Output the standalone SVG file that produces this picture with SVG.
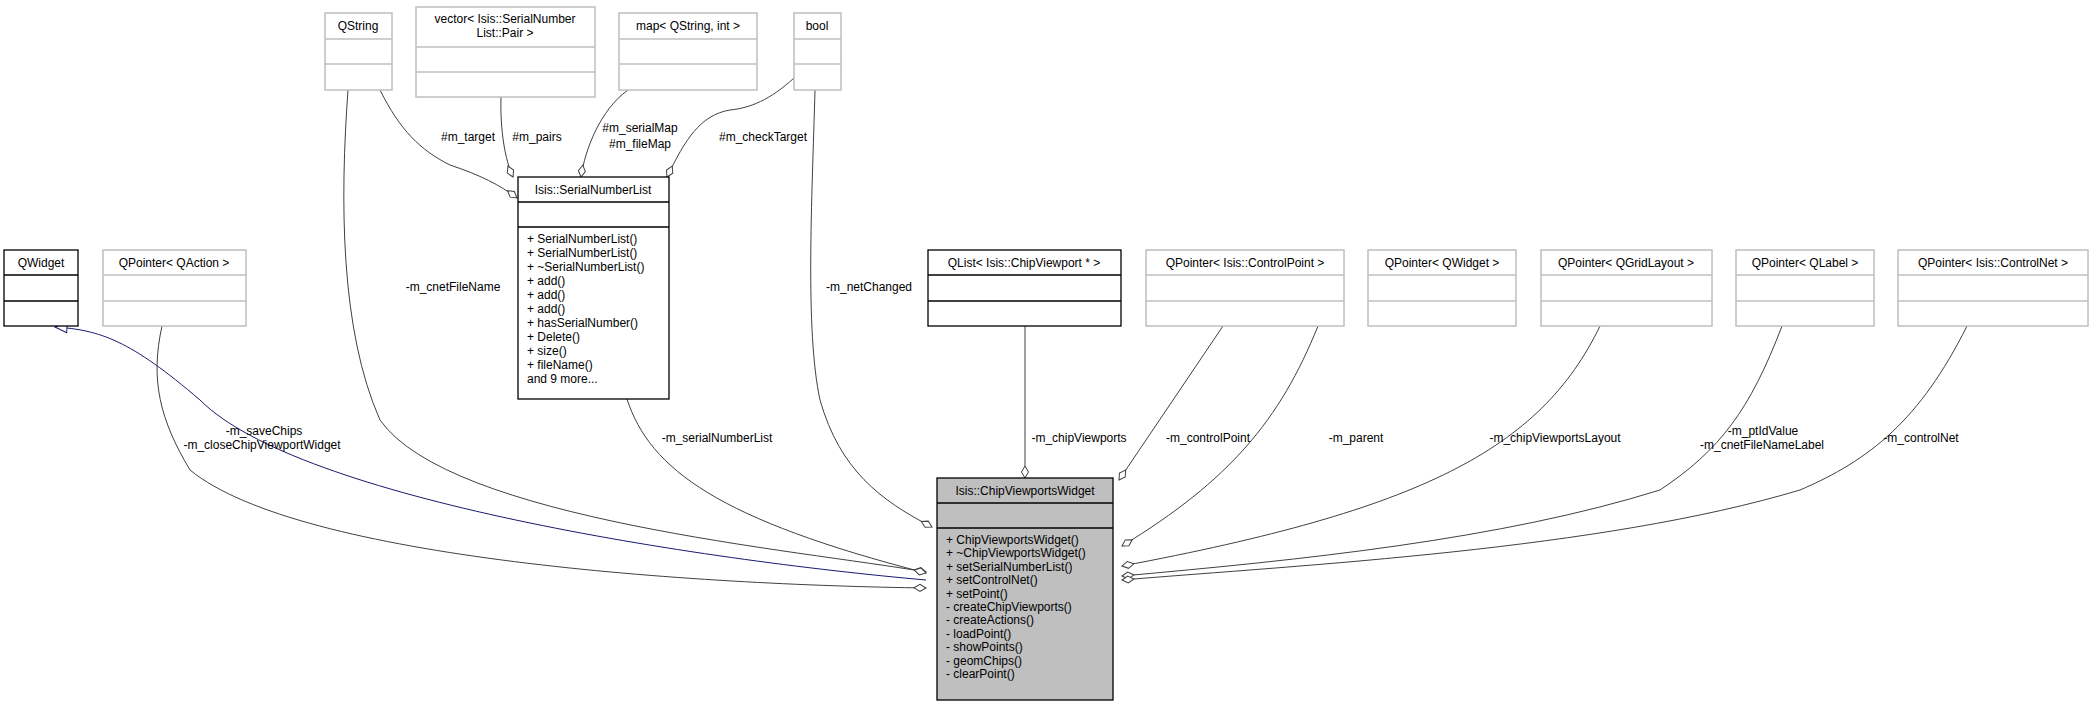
<svg xmlns="http://www.w3.org/2000/svg" width="2093" height="707" viewBox="0 0 2093 707">
<style>
text{font-family:"Liberation Sans",Arial,sans-serif;font-size:12px;fill:#000}
.c{text-anchor:middle}
.g rect,.g line{fill:#fff;stroke:#bfbfbf;stroke-width:1.5}
.b rect,.b line{fill:#fff;stroke:#000;stroke-width:1.3}
.m rect{fill:#bfbfbf;stroke:#000;stroke-width:1.3}
.m line{stroke:#000;stroke-width:1.3}
.e{fill:none;stroke:#404040;stroke-width:1}
.i{fill:none;stroke:#191970;stroke-width:1}
</style>
<defs>
<marker id="d" markerUnits="userSpaceOnUse" markerWidth="14" markerHeight="10" viewBox="-13 -5 14 10" refX="0" refY="0" orient="auto"><path d="M0,0 L-6,-3.5 L-12,0 L-6,3.5 Z" fill="#fff" stroke="#404040"/></marker>
<marker id="t" markerUnits="userSpaceOnUse" markerWidth="14" markerHeight="12" viewBox="-13 -6 14 12" refX="0" refY="0" orient="auto"><path d="M0,0 L-12,-5 L-12,5 Z" fill="#fff" stroke="#191970"/></marker>
</defs>
<rect width="2093" height="707" fill="#fff"/>
<g id="edges">
<path class="i" d="M926,580 C700,560 300,500 200,400 C130,340 100,330 55,327" marker-end="url(#t)"/>
<path class="e" d="M162,326 C150,380 160,420 190,470 C300,560 700,585 926,588" marker-end="url(#d)"/>
<path class="e" d="M348,90 C340,200 340,330 380,420 C450,520 800,550 926,572" marker-end="url(#d)"/>
<path class="e" d="M627,399 C650,470 720,520 926,573" marker-end="url(#d)"/>
<path class="e" d="M815,90 C812,200 805,330 820,400 C840,470 880,500 932,527" marker-end="url(#d)"/>
<path class="e" d="M380,90 C400,130 420,150 450,165 C480,175 500,185 517,198" marker-end="url(#d)"/>
<path class="e" d="M501,97 C500,130 505,160 513,177" marker-end="url(#d)"/>
<path class="e" d="M628,90 C600,110 585,150 581,177" marker-end="url(#d)"/>
<path class="e" d="M794,78 C770,100 750,108 730,110 C700,115 685,140 667,177" marker-end="url(#d)"/>
<path class="e" d="M1025,326 L1025,478" marker-end="url(#d)"/>
<path class="e" d="M1223,326 L1119,480" marker-end="url(#d)"/>
<path class="e" d="M1318,326 C1280,420 1230,480 1122,546" marker-end="url(#d)"/>
<path class="e" d="M1600,326 C1540,450 1420,510 1122,566" marker-end="url(#d)"/>
<path class="e" d="M1782,326 C1750,410 1720,450 1660,490 C1500,540 1300,560 1122,576" marker-end="url(#d)"/>
<path class="e" d="M1967,326 C1920,420 1870,460 1800,490 C1600,550 1300,565 1122,580" marker-end="url(#d)"/>
</g>
<g id="labels">
<text x="468" y="141" class="c">#m_target</text>
<text x="537" y="141" class="c">#m_pairs</text>
<text x="640" y="132" class="c">#m_serialMap</text>
<text x="640" y="148" class="c">#m_fileMap</text>
<text x="763" y="141" class="c">#m_checkTarget</text>
<text x="453" y="291" class="c">-m_cnetFileName</text>
<text x="869" y="291" class="c">-m_netChanged</text>
<text x="264" y="435" class="c">-m_saveChips</text>
<text x="262" y="449" class="c">-m_closeChipViewportWidget</text>
<text x="717" y="442" class="c">-m_serialNumberList</text>
<text x="1079" y="442" class="c">-m_chipViewports</text>
<text x="1208" y="442" class="c">-m_controlPoint</text>
<text x="1356" y="442" class="c">-m_parent</text>
<text x="1555" y="442" class="c">-m_chipViewportsLayout</text>
<text x="1763" y="435" class="c">-m_ptIdValue</text>
<text x="1762" y="449" class="c">-m_cnetFileNameLabel</text>
<text x="1921" y="442" class="c">-m_controlNet</text>
</g>
<g id="QString" class="g"><rect x="325" y="13" width="67" height="77"/><line x1="325" y1="39" x2="392" y2="39"/><line x1="325" y1="64" x2="392" y2="64"/><text x="358" y="30" class="c">QString</text></g>
<g id="vector" class="g"><rect x="416" y="7" width="179" height="90"/><line x1="416" y1="47" x2="595" y2="47"/><line x1="416" y1="72" x2="595" y2="72"/><text x="505" y="23" class="c">vector&lt; Isis::SerialNumber</text><text x="505" y="37" class="c">List::Pair &gt;</text></g>
<g id="map" class="g"><rect x="619" y="13" width="138" height="77"/><line x1="619" y1="39" x2="757" y2="39"/><line x1="619" y1="64" x2="757" y2="64"/><text x="688" y="30" class="c">map&lt; QString, int &gt;</text></g>
<g id="bool" class="g"><rect x="794" y="13" width="47" height="77"/><line x1="794" y1="39" x2="841" y2="39"/><line x1="794" y1="64" x2="841" y2="64"/><text x="817" y="30" class="c">bool</text></g>
<g id="SerialNumberList" class="b"><rect x="518" y="177" width="151" height="222"/><line x1="518" y1="202" x2="669" y2="202"/><line x1="518" y1="227" x2="669" y2="227"/><text x="593" y="194" class="c">Isis::SerialNumberList</text>
<text x="527" y="243">+ SerialNumberList()</text><text x="527" y="257">+ SerialNumberList()</text><text x="527" y="271">+ ~SerialNumberList()</text><text x="527" y="285">+ add()</text><text x="527" y="299">+ add()</text><text x="527" y="313">+ add()</text><text x="527" y="327">+ hasSerialNumber()</text><text x="527" y="341">+ Delete()</text><text x="527" y="355">+ size()</text><text x="527" y="369">+ fileName()</text><text x="527" y="383">and 9 more...</text></g>
<g id="QWidget" class="b"><rect x="4" y="250" width="74" height="76"/><line x1="4" y1="275" x2="78" y2="275"/><line x1="4" y1="301" x2="78" y2="301"/><text x="41" y="267" class="c">QWidget</text></g>
<g id="QAction" class="g"><rect x="103" y="250" width="143" height="76"/><line x1="103" y1="275" x2="246" y2="275"/><line x1="103" y1="301" x2="246" y2="301"/><text x="174" y="267" class="c">QPointer&lt; QAction &gt;</text></g>
<g id="QList" class="b"><rect x="928" y="250" width="193" height="76"/><line x1="928" y1="275" x2="1121" y2="275"/><line x1="928" y1="301" x2="1121" y2="301"/><text x="1024" y="267" class="c">QList&lt; Isis::ChipViewport * &gt;</text></g>
<g id="QControlPoint" class="g"><rect x="1146" y="250" width="198" height="76"/><line x1="1146" y1="275" x2="1344" y2="275"/><line x1="1146" y1="301" x2="1344" y2="301"/><text x="1245" y="267" class="c">QPointer&lt; Isis::ControlPoint &gt;</text></g>
<g id="QWidgetPtr" class="g"><rect x="1368" y="250" width="148" height="76"/><line x1="1368" y1="275" x2="1516" y2="275"/><line x1="1368" y1="301" x2="1516" y2="301"/><text x="1442" y="267" class="c">QPointer&lt; QWidget &gt;</text></g>
<g id="QGridLayout" class="g"><rect x="1541" y="250" width="171" height="76"/><line x1="1541" y1="275" x2="1712" y2="275"/><line x1="1541" y1="301" x2="1712" y2="301"/><text x="1626" y="267" class="c">QPointer&lt; QGridLayout &gt;</text></g>
<g id="QLabel" class="g"><rect x="1736" y="250" width="138" height="76"/><line x1="1736" y1="275" x2="1874" y2="275"/><line x1="1736" y1="301" x2="1874" y2="301"/><text x="1805" y="267" class="c">QPointer&lt; QLabel &gt;</text></g>
<g id="QControlNet" class="g"><rect x="1898" y="250" width="190" height="76"/><line x1="1898" y1="275" x2="2088" y2="275"/><line x1="1898" y1="301" x2="2088" y2="301"/><text x="1993" y="267" class="c">QPointer&lt; Isis::ControlNet &gt;</text></g>
<g id="ChipViewportsWidget" class="m"><rect x="937" y="478" width="176" height="222"/><line x1="937" y1="503" x2="1113" y2="503"/><line x1="937" y1="528" x2="1113" y2="528"/><text x="1025" y="495" class="c">Isis::ChipViewportsWidget</text>
<text x="946" y="544">+ ChipViewportsWidget()</text><text x="946" y="557">+ ~ChipViewportsWidget()</text><text x="946" y="571">+ setSerialNumberList()</text><text x="946" y="584">+ setControlNet()</text><text x="946" y="598">+ setPoint()</text><text x="946" y="611">- createChipViewports()</text><text x="946" y="624">- createActions()</text><text x="946" y="638">- loadPoint()</text><text x="946" y="651">- showPoints()</text><text x="946" y="665">- geomChips()</text><text x="946" y="678">- clearPoint()</text></g>
</svg>
